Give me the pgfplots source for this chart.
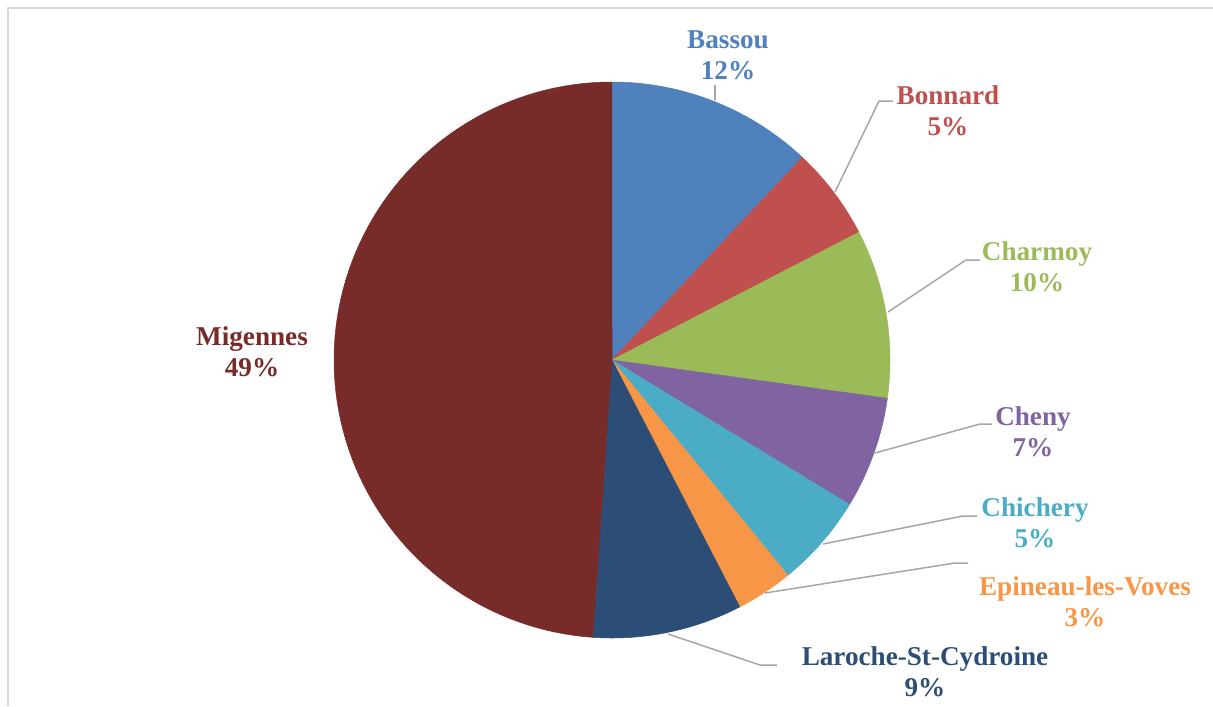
\documentclass[border=0pt]{standalone}
\usepackage{pgfplots}
\usepackage{pgfplotstable}
\usepackage{fontspec}
\setmainfont{Liberation Serif}
\pgfplotsset{compat=1.18}

\definecolor{cBassou}{HTML}{4F81BD}
\definecolor{cBonnard}{HTML}{C0504D}
\definecolor{cCharmoy}{HTML}{9BBB59}
\definecolor{cCheny}{HTML}{8064A2}
\definecolor{cChichery}{HTML}{4BACC6}
\definecolor{cEpineau}{HTML}{F79646}
\definecolor{cLaroche}{HTML}{2C4D75}
\definecolor{cMigennes}{HTML}{772C2A}
\definecolor{leader}{HTML}{A6A6A6}

% share of each commune, in percent, clockwise from the top
\pgfplotstableread[col sep=comma]{
name,value,color
Bassou,12.0,cBassou
Bonnard,5.4,cBonnard
Charmoy,9.8,cCharmoy
Cheny,6.5,cCheny
Chichery,5.4,cChichery
Epineau-les-Voves,3.3,cEpineau
Laroche-St-Cydroine,8.7,cLaroche
Migennes,48.9,cMigennes
}\piedata

\begin{document}
\begin{tikzpicture}
\begin{axis}[
  at={(0,0)}, anchor=south west,
  x=0.6pt, y=0.6pt,
  xmin=0, xmax=1213, ymin=0, ymax=706,
  y dir=reverse,
  scale only axis,
  hide axis,
  clip=false,
]
% chart area frame (partly visible)
\draw[color=black!15, line width=1.2pt] (axis cs:8,706) -- (axis cs:8,8) -- (axis cs:1213,8);

\gdef\acc{0}
\pgfplotsinvokeforeach{0,...,7}{
  \pgfplotstablegetelem{#1}{value}\of\piedata \let\sliceval\pgfplotsretval
  \pgfplotstablegetelem{#1}{color}\of\piedata \let\slicecol\pgfplotsretval
  \pgfmathsetmacro\sa{\acc*3.6}
  \pgfmathsetmacro\sb{(\acc+\sliceval)*3.6}
  \edef\temp{\noexpand\addplot[draw=\slicecol, line width=0.3pt, fill=\slicecol, domain=\sa:\sb, samples=90]
    ({612+278*sin(x)},{360-278*cos(x)}) -- (axis cs:612,360) -- cycle;}
  \temp
  \pgfmathsetmacro\newacc{\acc+\sliceval}
  \global\let\acc\newacc
}

% leader lines
\begin{scope}[leader, line width=0.9pt]
\draw (axis cs:715,85) -- (axis cs:715,100);
\draw (axis cs:893,101) -- (axis cs:879,101) -- (axis cs:835,192);
\draw (axis cs:980,260) -- (axis cs:966,260) -- (axis cs:888,312);
\draw (axis cs:992,424) -- (axis cs:980,424) -- (axis cs:875,453);
\draw (axis cs:977,516) -- (axis cs:963,516) -- (axis cs:823,544);
\draw (axis cs:968,563) -- (axis cs:955,563) -- (axis cs:765,593);
\draw (axis cs:777,665) -- (axis cs:760,665) -- (axis cs:668,634);
\end{scope}

% data labels
\begin{scope}[every node/.style={align=center, font=\fontsize{16.3}{18.6}\selectfont\bfseries, inner sep=0pt}]
\node[text=cBassou] at (axis cs:728,55) {Bassou\\12\%};
\node[text=cBonnard] at (axis cs:948,111) {Bonnard\\5\%};
\node[text=cCharmoy] at (axis cs:1037,267) {Charmoy\\10\%};
\node[text=cCheny] at (axis cs:1033,432) {Cheny\\7\%};
\node[text=cChichery] at (axis cs:1035,523) {Chichery\\5\%};
\node[text=cEpineau] at (axis cs:1085,602) {Epineau-les-Voves\\3\%};
\node[text=cLaroche] at (axis cs:925,672) {Laroche-St-Cydroine\\9\%};
\node[text=cMigennes] at (axis cs:252,352) {Migennes\\49\%};
\end{scope}
\end{axis}
\pgfresetboundingbox
\path (0,0) rectangle (727.8pt,423.6pt);
\end{tikzpicture}
\end{document}
